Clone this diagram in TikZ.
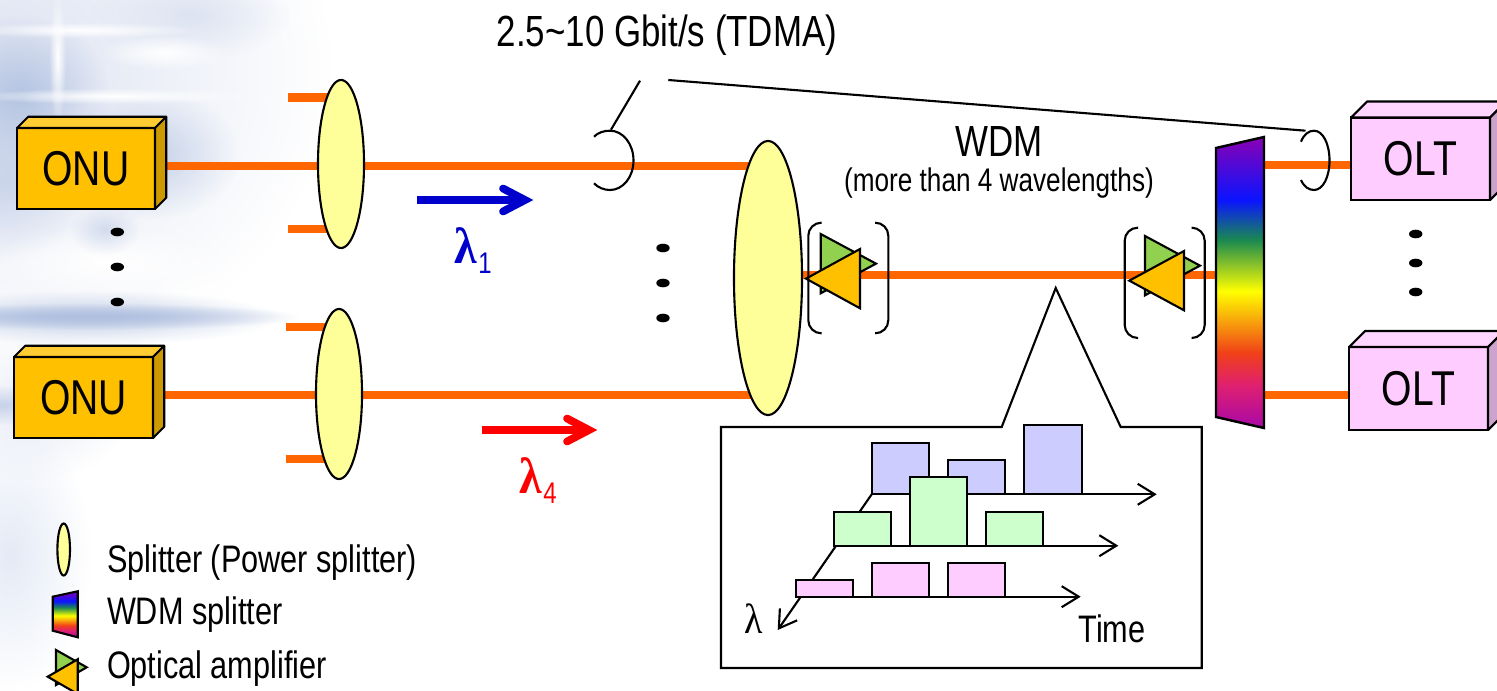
\documentclass[tikz,border=0pt]{standalone}
\usepackage{fontspec}
\setmainfont[FakeStretch=0.8]{Liberation Sans}
\newfontfamily\grk[FakeStretch=0.9]{Liberation Serif}
\usetikzlibrary{shapes.geometric,arrows.meta,fadings,calc}
\definecolor{fiber}{HTML}{FF6600}
\definecolor{splitfill}{HTML}{FFFF99}
\definecolor{onuF}{HTML}{FFC000}
\definecolor{onuT}{HTML}{FFCD33}
\definecolor{onuS}{HTML}{CC9A00}
\definecolor{oltF}{HTML}{FFCCFF}
\definecolor{oltT}{HTML}{FFD6FF}
\definecolor{oltS}{HTML}{CCA3CC}
\definecolor{ampG}{HTML}{92D050}
\definecolor{barB}{HTML}{CCCCFF}
\definecolor{barG}{HTML}{CCFFCC}
\definecolor{arrB}{HTML}{0000CC}
\definecolor{bgA}{HTML}{DDE3F2}
\definecolor{bgB}{HTML}{B4C4E2}
\definecolor{bgC}{HTML}{9DB0D8}
\definecolor{bgD}{HTML}{E4EAF6}
\definecolor{sP}{HTML}{8A00B4}
\definecolor{sB}{HTML}{0A14FF}
\definecolor{sT}{HTML}{1A8A50}
\definecolor{sY}{HTML}{FFFF00}
\definecolor{sR}{HTML}{F04018}
\definecolor{sK}{HTML}{E02070}
\definecolor{sM}{HTML}{A808A8}
\pgfdeclareverticalshading{spectrum}{100bp}{
 color(0bp)=(sM); color(25bp)=(sM); color(32.4bp)=(sK); color(37.9bp)=(sR);
 color(48.5bp)=(sY); color(57.3bp)=(sT); color(64.2bp)=(sB); color(75bp)=(sP); color(100bp)=(sP)}
\tikzfading[name=blob, inner color=transparent!0, outer color=transparent!100]
\pgfdeclarelayer{backdrop}
\pgfdeclarelayer{fibers}
\pgfsetlayers{backdrop,fibers,main}
\tikzset{
 line/.style={draw=black,line width=0.6pt},
 fibre/.style={draw=fiber,line width=2.4pt},
 splitter/.style={shape=ellipse,draw=black,line width=0.6pt,fill=splitfill,inner sep=0pt,outer sep=0pt},
 blackdot/.style={shape=ellipse,fill=black,inner sep=0pt,outer sep=0pt,minimum width=.134cm,minimum height=.086cm},
 bar/.style={draw=black,line width=0.6pt},
 axisline/.style={draw=black,line width=0.6pt,-{Straight Barb[length=.17cm,width=.21cm,line width=.6pt]}},
 txt/.style={inner sep=0pt,outer sep=0pt,text=black},
 big/.style={txt,font=\fontsize{13.9}{15}\selectfont},
 mid/.style={txt,font=\fontsize{12.4}{14}\selectfont},
 small/.style={txt,font=\fontsize{10.9}{12}\selectfont},
}
\newcommand{\solidbox}[8]{%
 \pgfmathsetmacro\bw{(#4-#2)*0.01}\pgfmathsetmacro\bh{(#5-#3)*0.01}%
 \node[big,draw=black,line width=.6pt,fill=#7F,minimum width=\bw cm,minimum height=\bh cm] (#1) at ({(#2+#4)/2},{(#3+#5)/2}) {#8};
 \draw[line,fill=#7T,line join=round] (#1.north west) -- ++(#6,-#6) -- ++(#4-#2,0) -- (#1.north east) -- cycle;
 \draw[line,fill=#7S,line join=round] (#1.north east) -- ++(#6,-#6) -- ++(0,#5-#3) -- (#1.south east) -- cycle;
}
\newcommand{\ampl}[6]{%
 \draw[line,fill=ampG,line join=miter] (#1,#2) -- (#3,{(#2+#4)/2}) -- (#1,#4) -- cycle;
 \draw[line,fill=onuF,line join=miter] (#5,{#2+15}) -- (#6,{#2+15+(#4-#2)/2}) -- (#5,{#4+15}) -- cycle;
}
\begin{document}
\begin{tikzpicture}[x=0.01cm,y=-0.01cm]
\useasboundingbox (0,0) rectangle (1497,691);
\clip (0,0) rectangle (1497,691);
\begin{pgfonlayer}{backdrop}
 \fill[white] (0,0) rectangle (1497,691);
 \fill[bgA,path fading=blob] (-330,-230) rectangle (330,370);
 \fill[bgB,path fading=blob] (-70,15) rectangle (110,175);
 \fill[bgB,opacity=.7,path fading=blob] (60,90) rectangle (240,220);
 \fill[bgB,opacity=.6,path fading=blob] (-80,100) rectangle (90,260);
 \fill[bgA,path fading=blob] (90,-30) rectangle (290,60);
 \fill[white,path fading=blob] (49,-10) rectangle (66,125);
 \fill[white,path fading=blob] (-40,22) rectangle (200,38);
 \fill[white,path fading=blob] (-30,88) rectangle (260,104);
 \fill[white,path fading=blob] (100,35) rectangle (230,70);
 \fill[white,path fading=blob] (-20,225) rectangle (230,300);
 \fill[white,path fading=blob] (130,260) rectangle (320,345);
 \fill[bgB,opacity=.5,path fading=blob] (70,205) rectangle (140,255);
 \fill[bgC,path fading=blob] (-120,303) rectangle (300,330);
 \fill[bgB,opacity=.8,path fading=blob] (-100,290) rectangle (280,345);
 \fill[bgB,path fading=blob] (-50,385) rectangle (60,425);
 \fill[bgD,path fading=blob] (-70,420) rectangle (90,690);
 \fill[bgA,opacity=.7,path fading=blob] (-60,335) rectangle (130,480);
\end{pgfonlayer}

% structure nodes
\coordinate (f1) at (0,166);
\coordinate (f2) at (0,395);
\coordinate (f3) at (0,275);
\coordinate (f4) at (0,165);
\coordinate (wdm) at (1240,282);
\solidbox{onuA}{17}{128}{155}{209}{11.2}{onu}{ONU}
\solidbox{onuB}{14}{357}{153}{438}{11.2}{onu}{ONU}
\solidbox{oltA}{1351}{117.5}{1490}{200}{16}{olt}{OLT}
\solidbox{oltB}{1349}{347}{1488}{430}{16}{olt}{OLT}
\node[splitter,minimum width=.46cm,minimum height=1.68cm] (spA) at (341,164) {};
\node[splitter,minimum width=.46cm,minimum height=1.70cm] (spB) at (339,394) {};
\node[splitter,minimum width=.68cm,minimum height=2.74cm] (spC) at (768,278) {};
\coordinate (stubA) at (288,97.5);
\coordinate (stubB) at (288,229);
\coordinate (stubC) at (286,327);
\coordinate (stubD) at (286,459);

\begin{pgfonlayer}{fibers}
 \draw[fibre] (onuA.east |- f1) -- (spA.center |- f1) -- (spC.center |- f1);
 \draw[fibre] (onuB.east |- f2) -- (spB.center |- f2) -- (spC.center |- f2);
 \draw[fibre] (spC.center |- f3) -- (wdm |- f3);
 \draw[fibre] (wdm |- f4) -- (oltA.west |- f4);
 \draw[fibre] (wdm |- f2) -- (oltB.west |- f2);
 \draw[fibre] (stubA) -- (spA.center |- stubA);
 \draw[fibre] (stubB) -- (spA.center |- stubB);
 \draw[fibre] (stubC) -- (spB.center |- stubC);
 \draw[fibre] (stubD) -- (spB.center |- stubD);
\end{pgfonlayer}

% WDM splitter
\shade[shading=spectrum] (1216,148) -- (1264,137) -- (1264,428) -- (1216,417) -- cycle;
\draw[line,line width=.7pt] (1216,148) -- (1264,137) -- (1264,428) -- (1216,417) -- cycle;

% amplifiers
\ampl{820.7}{234}{876}{293.3}{860}{806}
\ampl{1145}{236}{1200}{295.3}{1184}{1129.3}
\draw[line,rounded corners=.13cm] (821.7,222.7) -- (808.3,222.7) -- (808.3,333.3) -- (821.7,333.3);
\draw[line,rounded corners=.13cm] (875.7,222.7) -- (888.3,222.7) -- (888.3,333.3) -- (875.7,333.3);
\draw[line,rounded corners=.13cm] (1138,227.7) -- (1124.7,227.7) -- (1124.7,338) -- (1138,338);
\draw[line,rounded corners=.13cm] (1191.7,227.7) -- (1204.7,227.7) -- (1204.7,338) -- (1191.7,338);

% cable loops and leaders
\coordinate (leadA) at (640,80.7);
\coordinate (leadB) at (668.3,80);
\draw[line] (594,136.7) .. controls (598,132.5) and (604,130.7) .. (610,130.7)
 .. controls (623,130.7) and (633.5,144) .. (633.5,160.5)
 .. controls (633.5,177) and (623,190) .. (610,190)
 .. controls (604,190) and (598,187.5) .. (594,183.3);
\draw[line] (611,129.7) -- (leadA);
\draw[line] (1301,141.7) .. controls (1304,134) and (1309,130.7) .. (1314,130.7)
 .. controls (1323,130.7) and (1329.5,144) .. (1329.5,160.5)
 .. controls (1329.5,177) and (1323,190) .. (1314,190)
 .. controls (1309,190) and (1304,187) .. (1301,180);
\draw[line] (1305.5,130.7) -- (leadB);

% wavelength arrows
\coordinate (blueS) at (417,200);
\coordinate (blueE) at (525,200);
\draw[arrB,line width=2.2pt] (blueS) -- (blueE);
\draw[arrB,line width=2.2pt,line cap=round,miter limit=10] (503,188.5) -- (blueE) -- (503,211.5);
\coordinate (redS) at (482,430);
\coordinate (redE) at (589,430);
\draw[red,line width=2.2pt] (redS) -- (redE);
\draw[red,line width=2.2pt,line cap=round,miter limit=10] (567,418.5) -- (redE) -- (567,441.5);
\node[anchor=base west,inner sep=0pt,text=arrB] (lamA) at (454,263) {\fontsize{14.5}{16}\selectfont{\grk\bfseries λ}\raisebox{-2.9pt}{\hspace{.3pt}\fontsize{8.5}{10}\selectfont 1}};
\node[anchor=base west,inner sep=0pt,text=red] (lamB) at (519,493) {\fontsize{14.5}{16}\selectfont{\grk\bfseries λ}\raisebox{-2.9pt}{\hspace{.3pt}\fontsize{8.5}{10}\selectfont 4}};

% dots
\foreach \nm/\x/\y in {a/117.3/232,b/117.3/267,c/117.3/302,d/663/248,e/663/283,f/663/318,g/1415.7/234,h/1415.7/263,i/1415.7/292}
 \node[blackdot] (dot\nm) at (\x,\y) {};

% labels
\node[mid] (rate) at (667,35) {2.5\textasciitilde 10 Gbit/s (TDMA)};
\node[mid] (wdmt) at (999,141) {WDM};
\node[txt,font=\fontsize{9.3}{12}\selectfont] (wdms) at (999,183) {(more than 4 wavelengths)};

% inset
\draw[line,fill=white] (721,427) -- (1001.7,427) -- (1055.7,288) -- (1120.7,427) -- (1201.7,427) -- (1201.7,668) -- (721,668) -- cycle;
\coordinate (axO) at (871.7,494.3);
\coordinate (axL) at (777.7,630);
\coordinate (axB) at (1156.7,494.3);
\coordinate (axGs) at (834,545.7);
\coordinate (axG) at (1118.3,545.7);
\coordinate (axPs) at (800,596.7);
\coordinate (axP) at (1080.7,596.7);
\draw[axisline] (axO) -- (axL);
\draw[bar,fill=barB] (871.7,442.7) rectangle (929,494.3);
\draw[bar,fill=barB] (948.3,460) rectangle (1005,494.3);
\draw[bar,fill=barB] (1024.3,425) rectangle (1081.7,494.3);
\draw[axisline] (axO) -- (axB);
\draw[bar,fill=barG] (834,511.7) rectangle (890.7,545.7);
\draw[bar,fill=barG] (910,477.3) rectangle (967.3,545.7);
\draw[bar,fill=barG] (986.3,511.7) rectangle (1043.3,545.7);
\draw[axisline] (axGs) -- (axG);
\draw[bar,fill=oltF] (795.7,580.3) rectangle (852.7,596.7);
\draw[bar,fill=oltF] (871.7,563) rectangle (929,596.7);
\draw[bar,fill=oltF] (948.3,563) rectangle (1005,596.7);
\draw[axisline] (axPs) -- (axP);
\node[txt,font=\fontsize{12}{14}\selectfont\grk] (lamC) at (754,619) {λ};
\node[small] (time) at (1112,629) {Time};

% legend
\node[splitter,minimum width=.126cm,minimum height=.52cm] (lgS) at (63.7,549.5) {};
\shade[shading=spectrum] (52.7,596.7) -- (77.7,591.3) -- (77.7,637.3) -- (52.7,630.7) -- cycle;
\draw[line] (52.7,596.7) -- (77.7,591.3) -- (77.7,637.3) -- (52.7,630.7) -- cycle;
\draw[line,fill=ampG] (56,650) -- (86.7,667.3) -- (56,685) -- cycle;
\draw[line,fill=onuF] (77.7,659.3) -- (47.7,676.7) -- (77.7,694) -- cycle;
\node[small,anchor=west] (lgA) at (107,563) {Splitter (Power splitter)};
\node[small,anchor=west] (lgB) at (107,615) {WDM splitter};
\node[small,anchor=west] (lgC) at (107,669) {Optical amplifier};
\end{tikzpicture}
\end{document}
